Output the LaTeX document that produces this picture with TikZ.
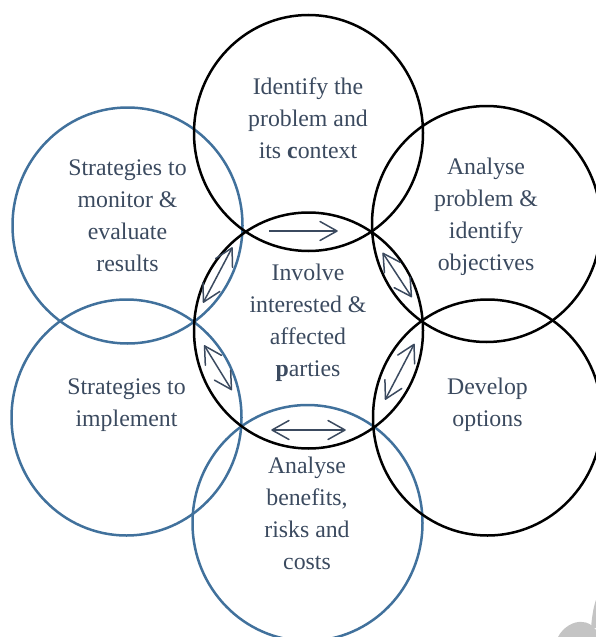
\documentclass[tikz,border=0pt]{standalone}
\usepackage{fontspec}
\setmainfont{Liberation Serif}
\usetikzlibrary{shapes.geometric,arrows.meta}
\definecolor{ringblue}{HTML}{41719C}
\definecolor{slate}{HTML}{3B4A5F}
\definecolor{blob}{HTML}{C4C4C4}
\pgfdeclarearrow{
  name=OpenVee,
  setup code={
    \pgfarrowssettipend{1pt}
    \pgfarrowssetlineend{0pt}
    \pgfarrowssetvisualtipend{0pt}
    \pgfarrowssetbackend{-17pt}
    \pgfarrowssetvisualbackend{-1pt}
  },
  drawing code={
    \pgfsetdash{}{0pt}
    \pgfsetroundjoin
    \pgfsetroundcap
    \pgfpathmoveto{\pgfqpoint{-17pt}{9.5pt}}
    \pgfpathlineto{\pgfqpoint{0pt}{0pt}}
    \pgfpathlineto{\pgfqpoint{-17pt}{-9.5pt}}
    \pgfusepathqstroke
  }
}
\tikzset{
  x=1pt,y=-1pt,
  ring/.style={ellipse,inner sep=0pt,outer sep=0pt,line width=2.5pt,minimum width=#1},
  ringb/.style={ring=230pt,minimum height=236pt,draw=ringblue},
  ringk/.style={ring=229pt,minimum height=236pt,draw=black},
  lab/.style={text=slate,align=center,font=\fontsize{23.8}{32}\selectfont,inner sep=0pt},
  dbl/.style={draw=slate,line width=1.5pt,{OpenVee}-{OpenVee}},
  sgl/.style={draw=slate,line width=1.5pt,-{OpenVee}}
}
\begin{document}
\begin{tikzpicture}
\useasboundingbox (0,0) rectangle (596,637);
\begin{scope}
\clip (0,0) rectangle (596,637);
\fill[blob] (558,637) .. controls (563,627) and (574,621) .. (582,622) .. controls (588,622) and (592,625) .. (596,630) -- (596,637) -- cycle;
\fill[blob] (591,628) .. controls (592,615) and (594,605) .. (596,600) -- (596,628) -- cycle;
\node[ringb] (leftupper) at (127.5,225.5) {};
\node[ringb] (leftlower) at (126.5,417.5) {};
\node[ringb] (bottom) at (307.5,523) {};
\node[ringk] (top) at (308.5,133) {};
\node[ringk] (rightupper) at (486.5,224) {};
\node[ringk] (rightlower) at (487.5,417.5) {};
\node[ringk] (centre) at (308.5,330.5) {};
\end{scope}
\node[lab] (tTop) at (308,118) {Identify the\\problem and\\its \textbf{c}ontext};
\node[lab] (tRU) at (486,217) {Analyse\\problem \&\\identify\\objectives};
\node[lab] (tRL) at (487.5,405) {Develop\\options};
\node[lab] (tLU) at (127.5,215.5) {Strategies to\\monitor \&\\evaluate\\results};
\node[lab] (tLL) at (126.5,405) {Strategies to\\implement};
\node[lab] (tB) at (307,513) {Analyse\\benefits,\\risks and\\costs};
\node[lab] (tC) at (308,323) {Involve\\interested \&\\affected\\\textbf{p}arties};
\coordinate (a1) at (269,231); \coordinate (a2) at (338,231);
\coordinate (b1) at (232.5,247); \coordinate (b2) at (203,303);
\coordinate (c1) at (204,345); \coordinate (c2) at (232,390.5);
\coordinate (d1) at (271,430); \coordinate (d2) at (346,430);
\coordinate (e1) at (382.5,252.5); \coordinate (e2) at (412,297.5);
\coordinate (f1) at (414.5,343.5); \coordinate (f2) at (385,400);
\draw[sgl] (a1) -- (a2);
\draw[dbl] (b1) -- (b2);
\draw[dbl] (c1) -- (c2);
\draw[dbl] (d1) -- (d2);
\draw[dbl] (e1) -- (e2);
\draw[dbl] (f1) -- (f2);
\end{tikzpicture}
\end{document}
